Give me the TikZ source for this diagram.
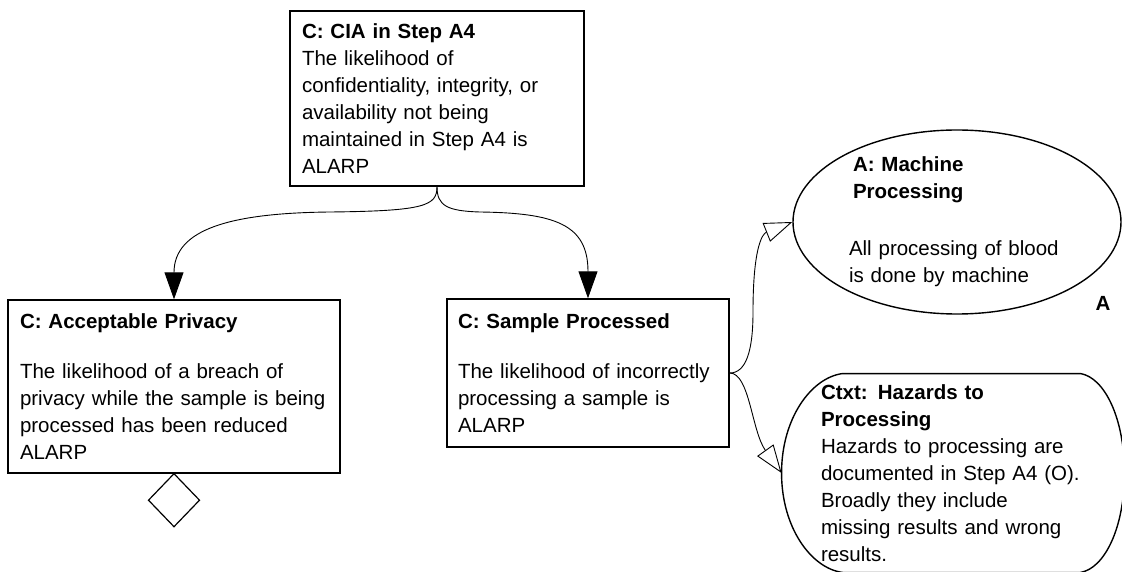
\documentclass[tikz,border=0pt]{standalone}
\usepackage{fontspec}
\setmainfont{Liberation Sans}
\usepackage{tikz}
\usetikzlibrary{arrows.meta,positioning,shapes.geometric}

\begin{document}
\begin{tikzpicture}[x=1pt,y=-1pt,line width=0.9pt,font=\fontsize{20.5}{27}\selectfont]
    \tikzstyle{claim}=[draw,line width=1.4pt,rectangle,inner sep=0pt,align=left]
    \tikzstyle{assume}=[draw,line width=1.4pt,ellipse,inner sep=0pt,align=left]
    \tikzstyle{context}=[rectangle,inner sep=0pt,align=left]
    \tikzstyle{supportby}=[-{Triangle[length=27pt,width=19pt]}]
    \tikzstyle{incontext}=[-{Triangle[open,length=28pt,width=20pt]}]
    \useasboundingbox (0,0) rectangle (1122,572);
    \clip (0,0) rectangle (1122,572);
    \node[claim,minimum width=294pt,minimum height=175pt,text width=270pt] (cia) at (437,98.5) {\textbf{C: CIA in Step A4}\\ The likelihood of\\ confidentiality, integrity, or\\ availability not being\\ maintained in Step A4 is\\ ALARP};
    \node[claim,minimum width=332pt,minimum height=173pt,text width=308pt] (privacy) at (174,386.5) {\textbf{C: Acceptable Privacy}\\[23pt] The likelihood of a breach of\\ privacy while the sample is being\\ processed has been reduced\\ ALARP};
    \node[claim,minimum width=282pt,minimum height=148pt,text width=260pt] (sample) at (588,373) {\textbf{C: Sample Processed}\\[23pt] The likelihood of incorrectly\\ processing a sample is\\ ALARP};
    \node[diamond,draw,line width=1.2pt,minimum width=51pt,minimum height=53pt,inner sep=0pt,outer sep=0pt,below=0pt of privacy] (undev) {};
    \node[assume,minimum width=328pt,minimum height=178pt,text width=216pt] (machine) at (957,222) {\hspace*{4pt}\textbf{A: Machine}\\ \hspace*{4pt}\textbf{Processing}\\[30pt] All processing of blood\\ is done by machine};
    \node[font=\fontsize{20.5}{27}\selectfont\bfseries] (amark) at (1103,303) {A};
    \node[context,minimum width=342pt,minimum height=198pt,text width=264pt] (ctx) at (953,473) {\textbf{Ctxt: Hazards to}\\ \textbf{Processing}\\ Hazards to processing are\\ documented in Step A4 (O).\\ Broadly they include\\ missing results and wrong\\ results.};
    \draw[line width=1.4pt] ([xshift=61pt]ctx.north west) -- ([xshift=-44pt]ctx.north east)
        .. controls +(24,4) and +(0,-55) .. (ctx.east)
        .. controls +(0,55) and +(24,-4) .. ([xshift=-44pt]ctx.south east)
        -- ([xshift=61pt]ctx.south west)
        .. controls +(-31,-4) and +(0,55) .. (ctx.west)
        .. controls +(0,-55) and +(-31,4) .. ([xshift=61pt]ctx.north west) -- cycle;
    \draw[supportby] (cia.south) .. controls +(0,19) and +(95,-1) .. (330,212) .. controls +(-100,1) and +(0,-70) .. (privacy.north);
    \draw[supportby] (cia.south) .. controls +(0,19) and +(-33,-1) .. (480,212) .. controls +(75,1) and +(0,-74) .. (sample.north);
    \draw[incontext] (sample.east) .. controls +(16,0) and +(0,40) .. (753,312) .. controls +(0,-80) and +(-25,10) .. (machine.west);
    \draw[incontext] (sample.east) .. controls +(20,0) and +(-30,-42) .. (ctx.west);
\end{tikzpicture}
\end{document}
